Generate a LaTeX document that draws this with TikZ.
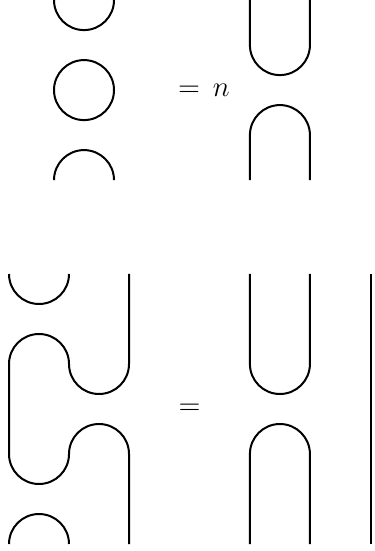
\documentclass[tikz,border=0pt]{standalone}
\begin{document}
\begin{tikzpicture}
   [x=15pt,y=15pt,line width=1pt]
   \useasboundingbox (0,-0.233) rectangle (12.467,18.133);

   % loops
   \begin{scope}[shift={(0,12.13)}]
   \draw (1.8,6) arc[start angle=180,end angle=360,radius=1];
   \draw (2.8,3) circle[radius=1];
   \draw (1.8,0) arc[start angle=180,end angle=0,radius=1];

   \node[font=\Large] (eqn) at (6.8,3) {$=\,n$};

   \draw (8.33,6) -- (8.33,4.5) arc[start angle=180,end angle=360,radius=1] -- (10.33,6);
   \draw (8.33,0) -- (8.33,1.5) arc[start angle=180,end angle=0,radius=1] -- (10.33,0);
   \end{scope}

   % zigzag
   \draw (0.3,9) arc[start angle=180,end angle=360,radius=1];
   \draw (4.3,9) -- (4.3,6) arc[start angle=0,end angle=-180,radius=1]
      arc[start angle=0,end angle=180,radius=1] -- (0.3,3)
      arc[start angle=180,end angle=360,radius=1]
      arc[start angle=180,end angle=0,radius=1] -- (4.3,0);
   \draw (0.3,0) arc[start angle=180,end angle=0,radius=1];

   \node[font=\Large] (eq) at (6.32,4.5) {$=$};

   \draw (8.33,9) -- (8.33,6) arc[start angle=180,end angle=360,radius=1] -- (10.33,9);
   \draw (8.33,0) -- (8.33,3) arc[start angle=180,end angle=0,radius=1] -- (10.33,0);
   \draw (12.37,0) -- (12.37,9);
\end{tikzpicture}
\end{document}
